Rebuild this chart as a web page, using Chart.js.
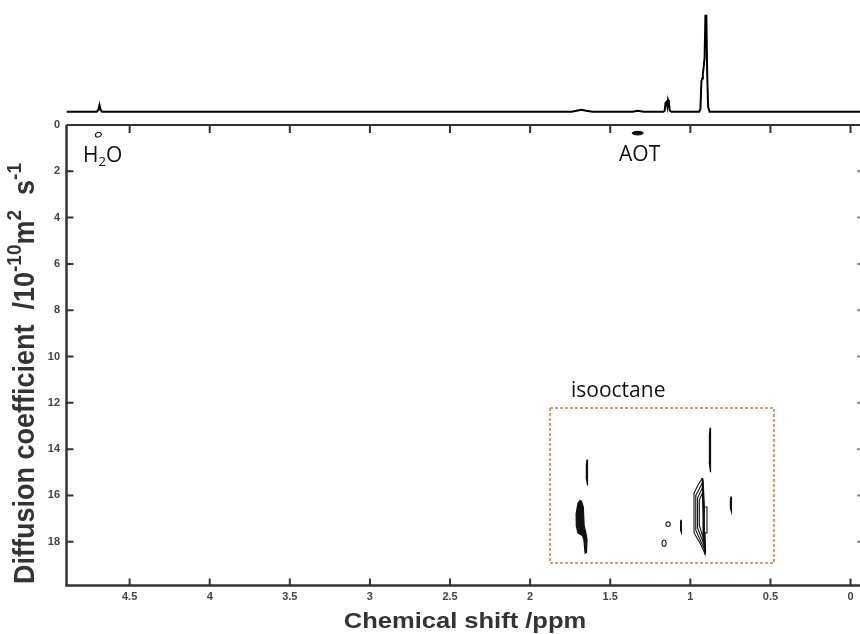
<!DOCTYPE html>
<html>
<head>
<meta charset="utf-8">
<script src="https://cdn.jsdelivr.net/npm/chart.js@4.4.1/dist/chart.umd.min.js"></script>
<style>
  body { margin: 0; background: #fff; }
  canvas { display: block; }
</style>
</head>
<body>
<canvas id="dosy" width="860" height="634"></canvas>
<script>
// tick values
const xTicks = [0, 0.5, 1, 1.5, 2, 2.5, 3, 3.5, 4, 4.5];
const yTicks = [0, 2, 4, 6, 8, 10, 12, 14, 16, 18];

// 1D proton spectrum on top: [ppm, intensity]
const spectrum = [
  [4.894, 0], [4.705, 0], [4.695, 2], [4.688, 7], [4.681, 2], [4.672, 0],
  [1.74, 0], [1.71, 1], [1.68, 2], [1.65, 1], [1.61, 0],
  [1.36, 0], [1.33, 1], [1.29, 0],
  [1.168, 0], [1.160, 1], [1.155, 9], [1.149, 10], [1.143, 5], [1.139, 12], [1.134, 9], [1.128, 1], [1.118, 0],
  [0.945, 0], [0.937, 3], [0.931, 31], [0.926, 34], [0.922, 39], [0.917, 45], [0.911, 55],
  [0.906, 98], [0.900, 98], [0.895, 40], [0.889, 5], [0.880, 0], [-0.059, 0]
];

// DOSY contours: [ppm, D / 1e-10 m2 s-1]
const h2oSpot = [[4.674, 0.40], [4.685, 0.32], [4.700, 0.32], [4.714, 0.40], [4.712, 0.49], [4.700, 0.53], [4.685, 0.50], [4.674, 0.40]];
const aotSpot = [[1.364, 0.35], [1.350, 0.29], [1.330, 0.27], [1.305, 0.29], [1.295, 0.35], [1.305, 0.41], [1.330, 0.43], [1.350, 0.41], [1.364, 0.35]];
const isoBlob = [
  [1.690, 16.22], [1.702, 16.35], [1.713, 16.80], [1.712, 17.30], [1.702, 17.62], [1.672, 17.74],
  [1.664, 17.95], [1.657, 18.50], [1.648, 18.46], [1.645, 17.90], [1.652, 17.62], [1.663, 17.30],
  [1.668, 16.50], [1.680, 16.24], [1.690, 16.22]
];
const isoLineA = [[1.645, 14.45], [1.641, 14.70], [1.640, 15.20], [1.645, 15.57], [1.650, 15.20], [1.649, 14.70], [1.645, 14.45]];
const isoLineB = [[0.877, 13.08], [0.873, 13.40], [0.872, 14.60], [0.877, 15.00], [0.882, 14.60], [0.881, 13.40], [0.877, 13.08]];
const isoLineC = [[0.746, 16.05], [0.742, 16.20], [0.742, 16.55], [0.746, 16.70], [0.750, 16.55], [0.750, 16.20], [0.746, 16.05]];
const isoLineD = [[1.058, 17.05], [1.055, 17.15], [1.055, 17.50], [1.058, 17.60], [1.061, 17.50], [1.061, 17.15], [1.058, 17.05]];
const isoDotA = [[1.139, 17.14], [1.128, 17.17], [1.125, 17.24], [1.128, 17.31], [1.139, 17.34], [1.150, 17.31], [1.153, 17.24], [1.150, 17.17], [1.139, 17.14]];
const isoDotB = [[1.164, 17.92], [1.154, 17.96], [1.151, 18.06], [1.154, 18.17], [1.164, 18.20], [1.174, 18.17], [1.177, 18.06], [1.174, 17.96], [1.164, 17.92]];
const mainOuter = [
  [0.925, 15.25], [0.952, 15.55], [0.977, 15.90], [0.977, 17.62], [0.940, 18.05], [0.908, 18.52],
  [0.912, 17.62], [0.896, 17.62], [0.896, 16.50], [0.916, 16.50], [0.918, 15.80], [0.925, 15.25]
];
const mainInner1 = [[0.924, 15.45], [0.966, 16.00], [0.966, 17.50], [0.914, 18.30], [0.917, 16.60], [0.924, 15.45]];
const mainInner2 = [[0.923, 15.65], [0.955, 16.10], [0.955, 17.40], [0.916, 18.10], [0.919, 16.70], [0.923, 15.65]];
const mainInner3 = [[0.922, 15.85], [0.944, 16.20], [0.944, 17.30], [0.917, 17.90], [0.920, 16.80], [0.922, 15.85]];
const mainRidge = [[0.927, 15.25], [0.920, 16.40], [0.915, 17.60], [0.910, 18.50], [0.905, 18.45], [0.909, 17.60], [0.913, 16.40], [0.921, 15.30], [0.927, 15.25]];
const isoBox = [[1.876, 12.22], [0.478, 12.22], [0.478, 18.92], [1.876, 18.92], [1.876, 12.22]];

const pts = a => a.map(([x, y]) => ({ x, y }));

function contour(data, filled) {
  return {
    data: pts(data), yAxisID: 'y', showLine: true, pointRadius: 0,
    borderColor: '#111', borderWidth: filled ? 1.2 : 1.1,
    backgroundColor: filled ? '#111' : 'transparent',
    fill: filled ? 'shape' : false, tension: 0
  };
}

const decor = {
  id: 'decor',
  afterDraw(chart) {
    const ctx = chart.ctx;
    const xs = chart.scales.x, ys = chart.scales.y;
    const L = chart.chartArea.left, R = chart.chartArea.right, B = chart.chartArea.bottom;
    const T = ys.getPixelForValue(0);
    ctx.save();
    ctx.strokeStyle = '#333';
    ctx.lineWidth = 2.5;
    ctx.beginPath();
    ctx.moveTo(L, T); ctx.lineTo(L, B); ctx.lineTo(R, B);
    ctx.stroke();
    ctx.lineWidth = 2;
    ctx.beginPath(); ctx.moveTo(L, T); ctx.lineTo(R, T); ctx.stroke();

    // inward tick marks
    ctx.lineWidth = 2;
    ctx.beginPath();
    xTicks.forEach(v => {
      const p = xs.getPixelForValue(v);
      ctx.moveTo(p, B); ctx.lineTo(p, B - 7);
      ctx.moveTo(p, T); ctx.lineTo(p, T + 8);
    });
    yTicks.forEach(v => {
      const p = ys.getPixelForValue(v);
      if (v > 0) { ctx.moveTo(L, p); ctx.lineTo(L + 7, p); }
    });
    ctx.stroke();
    ctx.strokeStyle = '#888';
    ctx.beginPath();
    yTicks.forEach(v => {
      const p = ys.getPixelForValue(v);
      if (v > 0) { ctx.moveTo(R - 3, p); ctx.lineTo(R, p); }
    });
    ctx.stroke();

    // x title, horizontally widened like the source figure
    ctx.fillStyle = '#333';
    ctx.font = 'bold 22px "Liberation Sans", Arial, sans-serif';
    ctx.textBaseline = 'alphabetic';
    ctx.textAlign = 'center';
    ctx.save();
    ctx.translate(465, 628);
    ctx.scale(1.16, 1);
    ctx.fillText('Chemical shift /ppm', 0, 0);
    ctx.restore();

    // y title with superscripts
    ctx.save();
    ctx.translate(34, 584);
    ctx.rotate(-Math.PI / 2);
    ctx.scale(1, 1.1);
    ctx.textAlign = 'left';
    const big = 'bold 27px "Liberation Sans", Arial, sans-serif';
    const small = 'bold 19px "Liberation Sans", Arial, sans-serif';
    const parts = [
      ['Diffusion coefficient  /10', big, 0], ['-10', small, -12],
      ['m', big, 0], ['2', small, -12], ['  s', big, 0], ['-1', small, -12]
    ];
    let cx = 0;
    parts.forEach(([t, f, dy]) => {
      ctx.font = f;
      ctx.fillText(t, cx, dy);
      cx += ctx.measureText(t).width;
    });
    ctx.restore();

    // annotations
    ctx.fillStyle = '#111';
    ctx.textAlign = 'left';
    const txt = (s, px, d, size) => {
      ctx.font = size + 'px "Open Sans", sans-serif';
      const X = xs.getPixelForValue(px), Y = ys.getPixelForValue(d);
      ctx.fillText(s, X, Y);
      return X + ctx.measureText(s).width;
    };
    let hx = txt('H', 4.791, 1.6, 21);
    ctx.font = '13px "Open Sans", sans-serif';
    ctx.fillText('2', hx, ys.getPixelForValue(1.6) + 4);
    hx += ctx.measureText('2').width;
    ctx.font = '21px "Open Sans", sans-serif';
    ctx.fillText('O', hx, ys.getPixelForValue(1.6));
    txt('AOT', 1.445, 1.555, 21);
    txt('isooctane', 1.745, 11.75, 21);
    ctx.restore();
  }
};

new Chart(document.getElementById('dosy'), {
  type: 'scatter',
  data: {
    datasets: [
      {
        data: pts(spectrum), yAxisID: 'ySpec', showLine: true, pointRadius: 0,
        borderColor: '#000', borderWidth: 2, tension: 0, fill: false
      },
      contour(h2oSpot, false),
      contour(aotSpot, true),
      contour(isoBlob, true),
      contour(isoLineA, true),
      contour(isoLineB, true),
      contour(isoLineC, true),
      contour(isoLineD, true),
      contour(isoDotA, false),
      contour(isoDotB, false),
      contour(mainOuter, false),
      contour(mainInner1, false),
      contour(mainInner2, false),
      contour(mainInner3, false),
      contour(mainRidge, true),
      {
        data: pts(isoBox), yAxisID: 'y', showLine: true, pointRadius: 0,
        borderColor: '#E0782F', borderWidth: 1.5, borderDash: [3, 2], fill: false, tension: 0
      }
    ]
  },
  options: {
    responsive: false,
    devicePixelRatio: 1,
    animation: false,
    layout: { padding: 0 },
    plugins: { legend: { display: false }, tooltip: { enabled: false } },
    scales: {
      x: {
        type: 'linear', position: 'bottom', reverse: true, min: -0.059, max: 4.894,
        grid: { display: false, drawTicks: false }, border: { display: false },
        afterBuildTicks: s => { s.ticks = xTicks.map(v => ({ value: v })); },
        afterFit: s => { s.height = 48.5; s.paddingLeft = 0; s.paddingRight = 0; },
        ticks: {
          padding: 5, color: '#444', maxRotation: 0, autoSkip: false,
          font: { family: '"Liberation Sans", Arial, sans-serif', size: 11, weight: 'bold' },
          callback: v => String(v)
        }
      },
      y: {
        type: 'linear', position: 'left', reverse: true, min: -5.40, max: 19.89,
        grid: { display: false, drawTicks: false }, border: { display: false },
        afterBuildTicks: s => { s.ticks = yTicks.map(v => ({ value: v })); },
        afterFit: s => { s.width = 66.5; s.paddingTop = 0; s.paddingBottom = 0; },
        ticks: {
          padding: 6.5, color: '#444', autoSkip: false,
          font: { family: '"Liberation Sans", Arial, sans-serif', size: 11, weight: 'bold' },
          callback: v => String(v)
        }
      },
      ySpec: {
        type: 'linear', display: false, min: -483.4, max: 114.0
      }
    }
  },
  plugins: [decor]
});
</script>
</body>
</html>
